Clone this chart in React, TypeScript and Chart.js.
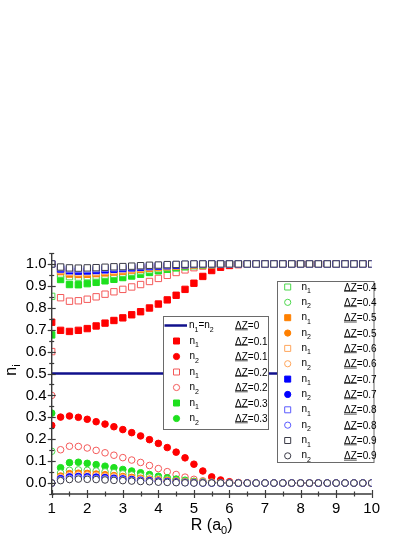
import React, { useEffect, useRef } from "react";
import { Chart, registerables } from "chart.js";

Chart.register(...registerables);

// ---------- data ----------
const R = [1, 1.25, 1.5, 1.75, 2, 2.25, 2.5, 2.75, 3, 3.25, 3.5, 3.75, 4, 4.25, 4.5, 4.75, 5, 5.25, 5.5, 5.75, 6, 6.25, 6.5, 6.75, 7, 7.25, 7.5, 7.75, 8, 8.25, 8.5, 8.75, 9, 9.25, 9.5, 9.75, 10];
const yTickValues = [0, 0.1, 0.2, 0.3, 0.4, 0.5, 0.6, 0.7, 0.8, 0.9, 1.0];
const xTickValues = [1, 2, 3, 4, 5, 6, 7, 8, 9, 10];

const lineR = [1, 10];
const lineDz0 = [0.5, 0.5];

const n1_dz01 = [0.734, 0.697, 0.692, 0.697, 0.705, 0.717, 0.730, 0.742, 0.754, 0.768, 0.782, 0.799, 0.817, 0.836, 0.857, 0.884, 0.912, 0.943, 0.970, 0.985, 0.993, 0.997, 0.999, 1, 1, 1, 1, 1, 1, 1, 1, 1, 1, 1, 1, 1, 1];
const n2_dz01 = [0.263, 0.301, 0.306, 0.300, 0.291, 0.280, 0.269, 0.257, 0.244, 0.230, 0.215, 0.198, 0.181, 0.162, 0.141, 0.115, 0.086, 0.055, 0.028, 0.014, 0.006, 0.002, 0.001, 0, 0, 0, 0, 0, 0, 0, 0, 0, 0, 0, 0, 0, 0];
const n1_dz02 = [0.600, 0.846, 0.830, 0.832, 0.839, 0.850, 0.862, 0.873, 0.884, 0.895, 0.906, 0.920, 0.934, 0.948, 0.961, 0.973, 0.983, 0.990, 0.995, 0.998, 0.999, 1, 1, 1, 1, 1, 1, 1, 1, 1, 1, 1, 1, 1, 1, 1, 1];
const n2_dz02 = [0.400, 0.152, 0.168, 0.167, 0.160, 0.149, 0.138, 0.127, 0.116, 0.105, 0.094, 0.080, 0.066, 0.052, 0.039, 0.027, 0.017, 0.010, 0.005, 0.002, 0.001, 0, 0, 0, 0, 0, 0, 0, 0, 0, 0, 0, 0, 0, 0, 0, 0];
const n1_dz03 = [0.676, 0.929, 0.906, 0.905, 0.910, 0.916, 0.923, 0.930, 0.938, 0.945, 0.953, 0.961, 0.969, 0.976, 0.982, 0.987, 0.992, 0.995, 0.997, 0.999, 1, 1, 1, 1, 1, 1, 1, 1, 1, 1, 1, 1, 1, 1, 1, 1, 1];
const n2_dz03 = [0.319, 0.070, 0.093, 0.095, 0.090, 0.084, 0.077, 0.070, 0.062, 0.055, 0.047, 0.039, 0.031, 0.024, 0.018, 0.013, 0.008, 0.005, 0.003, 0.001, 0, 0, 0, 0, 0, 0, 0, 0, 0, 0, 0, 0, 0, 0, 0, 0, 0];
const n1_dz04 = [0.852, 0.954, 0.942, 0.940, 0.942, 0.945, 0.949, 0.953, 0.958, 0.963, 0.968, 0.973, 0.978, 0.983, 0.987, 0.991, 0.994, 0.996, 0.998, 0.999, 1, 1, 1, 1, 1, 1, 1, 1, 1, 1, 1, 1, 1, 1, 1, 1, 1];
const n2_dz04 = [0.145, 0.046, 0.058, 0.060, 0.058, 0.055, 0.051, 0.047, 0.042, 0.037, 0.032, 0.027, 0.022, 0.017, 0.013, 0.009, 0.006, 0.004, 0.002, 0.001, 0, 0, 0, 0, 0, 0, 0, 0, 0, 0, 0, 0, 0, 0, 0, 0, 0];
const n1_dz05 = [1, 0.965, 0.954, 0.952, 0.953, 0.956, 0.959, 0.963, 0.967, 0.972, 0.976, 0.980, 0.984, 0.987, 0.990, 0.993, 0.995, 0.997, 0.998, 0.999, 1, 1, 1, 1, 1, 1, 1, 1, 1, 1, 1, 1, 1, 1, 1, 1, 1];
const n2_dz05 = [0, 0.032, 0.043, 0.045, 0.044, 0.041, 0.038, 0.034, 0.030, 0.026, 0.022, 0.018, 0.015, 0.012, 0.009, 0.006, 0.004, 0.003, 0.002, 0.001, 0, 0, 0, 0, 0, 0, 0, 0, 0, 0, 0, 0, 0, 0, 0, 0, 0];
const n1_dz06 = [1, 0.971, 0.962, 0.960, 0.961, 0.963, 0.966, 0.969, 0.973, 0.977, 0.981, 0.984, 0.987, 0.990, 0.992, 0.994, 0.996, 0.998, 0.999, 1, 1, 1, 1, 1, 1, 1, 1, 1, 1, 1, 1, 1, 1, 1, 1, 1, 1];
const n2_dz06 = [0, 0.026, 0.035, 0.037, 0.036, 0.034, 0.031, 0.028, 0.025, 0.021, 0.018, 0.015, 0.012, 0.009, 0.007, 0.005, 0.003, 0.002, 0.001, 0, 0, 0, 0, 0, 0, 0, 0, 0, 0, 0, 0, 0, 0, 0, 0, 0, 0];
const n1_dz07 = [1, 0.977, 0.969, 0.967, 0.968, 0.970, 0.973, 0.976, 0.979, 0.982, 0.985, 0.988, 0.990, 0.992, 0.994, 0.996, 0.998, 0.999, 1, 1, 1, 1, 1, 1, 1, 1, 1, 1, 1, 1, 1, 1, 1, 1, 1, 1, 1];
const n2_dz07 = [0, 0.020, 0.028, 0.030, 0.029, 0.027, 0.025, 0.022, 0.019, 0.016, 0.013, 0.011, 0.009, 0.007, 0.005, 0.003, 0.002, 0.001, 0, 0, 0, 0, 0, 0, 0, 0, 0, 0, 0, 0, 0, 0, 0, 0, 0, 0, 0];
const n1_dz08 = [1, 0.982, 0.976, 0.975, 0.976, 0.978, 0.980, 0.982, 0.984, 0.987, 0.989, 0.991, 0.993, 0.995, 0.997, 0.998, 0.999, 1, 1, 1, 1, 1, 1, 1, 1, 1, 1, 1, 1, 1, 1, 1, 1, 1, 1, 1, 1];
const n2_dz08 = [0, 0.015, 0.022, 0.024, 0.023, 0.021, 0.019, 0.017, 0.015, 0.012, 0.010, 0.008, 0.006, 0.005, 0.003, 0.002, 0.001, 0, 0, 0, 0, 0, 0, 0, 0, 0, 0, 0, 0, 0, 0, 0, 0, 0, 0, 0, 0];
const n1_dz09 = [1, 0.986, 0.982, 0.981, 0.982, 0.983, 0.985, 0.987, 0.988, 0.990, 0.992, 0.994, 0.995, 0.997, 0.998, 0.999, 1, 1, 1, 1, 1, 1, 1, 1, 1, 1, 1, 1, 1, 1, 1, 1, 1, 1, 1, 1, 1];
const n2_dz09 = [0, 0.011, 0.016, 0.018, 0.017, 0.016, 0.014, 0.012, 0.011, 0.009, 0.007, 0.006, 0.004, 0.003, 0.002, 0.001, 0, 0, 0, 0, 0, 0, 0, 0, 0, 0, 0, 0, 0, 0, 0, 0, 0, 0, 0, 0, 0];

const dzLabels = ["ΔZ=0.1", "ΔZ=0.1", "ΔZ=0.2", "ΔZ=0.2", "ΔZ=0.3", "ΔZ=0.3", "ΔZ=0.4", "ΔZ=0.4", "ΔZ=0.5", "ΔZ=0.5", "ΔZ=0.6", "ΔZ=0.6", "ΔZ=0.7", "ΔZ=0.7", "ΔZ=0.8", "ΔZ=0.8", "ΔZ=0.9", "ΔZ=0.9"];
const nSubs = ["1", "2", "1", "2", "1", "2", "1", "2", "1", "2", "1", "2", "1", "2", "1", "2", "1", "2"];
const seriesValues = [n1_dz01, n2_dz01, n1_dz02, n2_dz02, n1_dz03, n2_dz03, n1_dz04, n2_dz04, n1_dz05, n2_dz05, n1_dz06, n2_dz06, n1_dz07, n2_dz07, n1_dz08, n2_dz08, n1_dz09, n2_dz09];

// ---------- styles ----------
const seriesColors = ["#FF0000", "#FF0000", "#F45A5A", "#F45A5A", "#1EE01E", "#1EE01E", "#4CD84C", "#4CD84C", "#FF8000", "#FF8000", "#FFA65C", "#FFA65C", "#0000FF", "#0000FF", "#5A5AFF", "#5A5AFF", "#3C3C48", "#3C3C48"];
const seriesFilled = [true, true, false, false, true, true, false, false, true, true, false, false, true, true, false, false, false, false];
const seriesShape = ["rect", "circle", "rect", "circle", "rect", "circle", "rect", "circle", "rect", "circle", "rect", "circle", "rect", "circle", "rect", "circle", "rect", "circle"];
const LINE_COLOR = "#10108C";
const FONT = "'Liberation Sans', Arial, sans-serif";

function drawParts(ctx: CanvasRenderingContext2D, parts: [string, boolean][], x: number, y: number, size: number, subSize: number, subShift: number) {
  let cx = x;
  for (const [t, sub] of parts) {
    ctx.font = `${sub ? subSize : size}px ${FONT}`;
    ctx.fillText(t, cx, sub ? y + subShift : y);
    cx += ctx.measureText(t).width;
  }
  return cx - x;
}
function measureParts(ctx: CanvasRenderingContext2D, parts: [string, boolean][], size: number, subSize: number) {
  let w = 0;
  for (const [t, sub] of parts) {
    ctx.font = `${sub ? subSize : size}px ${FONT}`;
    w += ctx.measureText(t).width;
  }
  return w;
}

function drawMarker(ctx: CanvasRenderingContext2D, shape: string, filled: boolean, color: string, cx: number, cy: number) {
  ctx.save();
  ctx.lineWidth = 1;
  ctx.strokeStyle = color;
  ctx.fillStyle = filled ? color : "#FFFFFF";
  ctx.beginPath();
  if (shape === "rect") {
    ctx.rect(cx - 3, cy - 3, 6, 6);
  } else {
    ctx.arc(cx, cy, 3.1, 0, Math.PI * 2);
  }
  ctx.fill();
  ctx.stroke();
  ctx.restore();
}

const axesPlugin = {
  id: "customAxes",
  afterDatasetsDraw(chart: any) {
    const { ctx, chartArea } = chart;
    const xs = chart.scales.x;
    const ys = chart.scales.y;
    ctx.save();
    ctx.strokeStyle = "#3A3A3A";
    ctx.lineWidth = 1.4;
    const left = chartArea.left;
    const bottom = chartArea.bottom;
    ctx.beginPath();
    ctx.moveTo(left, chartArea.top);
    ctx.lineTo(left, bottom);
    ctx.moveTo(left, bottom);
    ctx.lineTo(chartArea.right, bottom);
    ctx.stroke();
    ctx.lineWidth = 1.2;
    // y ticks
    for (let k = -1; k <= 21; k++) {
      const v = k * 0.05;
      const py = ys.getPixelForValue(v);
      if (py < chartArea.top - 0.5 || py > bottom + 0.5) continue;
      const major = k % 2 === 0;
      const len = major ? 4 : 2.5;
      ctx.beginPath();
      ctx.moveTo(left - len, Math.round(py) + 0.5);
      ctx.lineTo(left + len, Math.round(py) + 0.5);
      ctx.stroke();
    }
    // x ticks
    for (let k = 2; k <= 20; k++) {
      const v = k * 0.5;
      const px = xs.getPixelForValue(v);
      const major = k % 2 === 0;
      const len = major ? 4 : 2.5;
      ctx.beginPath();
      ctx.moveTo(Math.round(px) + 0.5, bottom - len);
      ctx.lineTo(Math.round(px) + 0.5, bottom + len);
      ctx.stroke();
    }
    ctx.restore();
  },
  afterDraw(chart: any) {
    const { ctx, chartArea } = chart;
    ctx.save();
    ctx.fillStyle = "#000";
    ctx.textBaseline = "alphabetic";
    // x title
    const xParts: [string, boolean][] = [["R (a", false], ["0", true], [")", false]];
    const xw = measureParts(ctx, xParts, 16, 11);
    drawParts(ctx, xParts, (chartArea.left + chartArea.right) / 2 - xw / 2, 530, 16, 11, 4);
    // y title
    const yParts: [string, boolean][] = [["n", false], ["i", true]];
    const yw = measureParts(ctx, yParts, 16, 11);
    ctx.translate(16, 370);
    ctx.rotate(-Math.PI / 2);
    drawParts(ctx, yParts, -yw / 2, 0, 16, 11, 4);
    ctx.restore();

    // legends
    const drawLegendRow = (i: number, cy: number, sx: number, nx: number, dx: number) => {
      drawMarker(ctx, seriesShape[i], seriesFilled[i], seriesColors[i], sx, cy);
      ctx.fillStyle = "#000";
      drawParts(ctx, [["n", false], [nSubs[i], true]], nx, cy + 2.5, 10, 7, 3.5);
      drawDz(dzLabels[i], dx, cy + 3.5);
    };
    const drawDz = (label: string, x: number, y: number) => {
      ctx.font = `10px ${FONT}`;
      ctx.fillStyle = "#000";
      ctx.fillText(label, x, y);
      const w = ctx.measureText("ΔZ").width;
      ctx.strokeStyle = "#000";
      ctx.lineWidth = 0.7;
      ctx.beginPath();
      ctx.moveTo(x, y + 0.8);
      ctx.lineTo(x + w, y + 0.8);
      ctx.stroke();
    };

    ctx.save();
    // legend 1
    const b1 = { x: 163.5, y: 316.5, w: 105, h: 113 };
    ctx.fillStyle = "#FFFFFF";
    ctx.fillRect(b1.x, b1.y, b1.w, b1.h);
    ctx.strokeStyle = "#6A6A6A";
    ctx.lineWidth = 1;
    ctx.strokeRect(b1.x, b1.y, b1.w, b1.h);
    const r0 = 325.5;
    ctx.strokeStyle = LINE_COLOR;
    ctx.lineWidth = 2.5;
    ctx.beginPath();
    ctx.moveTo(164.5, r0);
    ctx.lineTo(187, r0);
    ctx.stroke();
    ctx.fillStyle = "#000";
    drawParts(ctx, [["n", false], ["1", true], ["=n", false], ["2", true]], 189, r0 + 2.5, 10, 7, 3.5);
    drawDz("ΔZ=0", 235, r0 + 3.5);
    for (let i = 0; i < 6; i++) {
      drawLegendRow(i, r0 + 15.5 * (i + 1), 176.5, 189.5, 235);
    }
    // legend 2
    const b2 = { x: 277.5, y: 281.5, w: 96.5, h: 181 };
    ctx.fillStyle = "#FFFFFF";
    ctx.fillRect(b2.x, b2.y, b2.w, b2.h);
    ctx.strokeStyle = "#6A6A6A";
    ctx.lineWidth = 1;
    ctx.strokeRect(b2.x, b2.y, b2.w, b2.h);
    for (let i = 6; i < 18; i++) {
      drawLegendRow(i, 287 + 15.35 * (i - 6), 287.7, 301.5, 344);
    }
    ctx.restore();
  },
};

export default function App() {
  const ref = useRef<HTMLCanvasElement | null>(null);
  useEffect(() => {
    if (!ref.current) return;
    const datasets: any[] = [
      {
        label: "n1=n2 ΔZ=0",
        data: lineR.map((x, i) => ({ x, y: lineDz0[i] })),
        showLine: true,
        borderColor: LINE_COLOR,
        borderWidth: 2.5,
        pointRadius: 0,
        order: 1,
      },
    ];
    seriesValues.forEach((vals, i) => {
      const isRect = seriesShape[i] === "rect";
      datasets.push({
        label: `n${nSubs[i]} ${dzLabels[i]}`,
        data: R.map((x, k) => ({ x, y: vals[k] })),
        showLine: false,
        pointStyle: seriesShape[i],
        pointRadius: isRect ? 4.5 : 3.3,
        pointBorderWidth: 1,
        pointBorderColor: seriesColors[i],
        pointBackgroundColor: seriesFilled[i] ? seriesColors[i] : "#FFFFFF",
        order: -i,
      });
    });
    const chart = new Chart(ref.current, {
      type: "scatter",
      data: { datasets },
      options: {
        animation: false,
        responsive: false,
        events: [],
        layout: { padding: { top: 253, right: 43.3, left: 0, bottom: 0 } },
        plugins: { legend: { display: false }, tooltip: { enabled: false }, title: { display: false } },
        scales: {
          x: {
            type: "linear",
            min: 1,
            max: 10,
            afterBuildTicks: (s: any) => {
              s.ticks = xTickValues.map((v) => ({ value: v }));
            },
            afterFit: (s: any) => {
              s.height = 43;
            },
            grid: { display: false, drawTicks: false },
            border: { display: false },
            ticks: {
              color: "#000",
              padding: 6,
              maxRotation: 0,
              autoSkip: false,
              font: { family: FONT, size: 15 },
              callback: (v: any) => String(v),
            },
          },
          y: {
            type: "linear",
            min: -0.05,
            max: 1.05,
            afterBuildTicks: (s: any) => {
              s.ticks = yTickValues.map((v) => ({ value: v }));
            },
            afterFit: (s: any) => {
              s.width = 51.7;
            },
            grid: { display: false, drawTicks: false },
            border: { display: false },
            ticks: {
              color: "#000",
              padding: 5,
              autoSkip: false,
              font: { family: FONT, size: 15 },
              callback: (v: any) => Number(v).toFixed(1),
            },
          },
        },
      },
      plugins: [axesPlugin],
    });
    return () => chart.destroy();
  }, []);
  return (
    <div style={{ position: "absolute", left: 0, top: 0, width: 415, height: 537, background: "#fff" }}>
      <canvas ref={ref} width={415} height={537} style={{ display: "block", width: 415, height: 537 }} />
    </div>
  );
}
